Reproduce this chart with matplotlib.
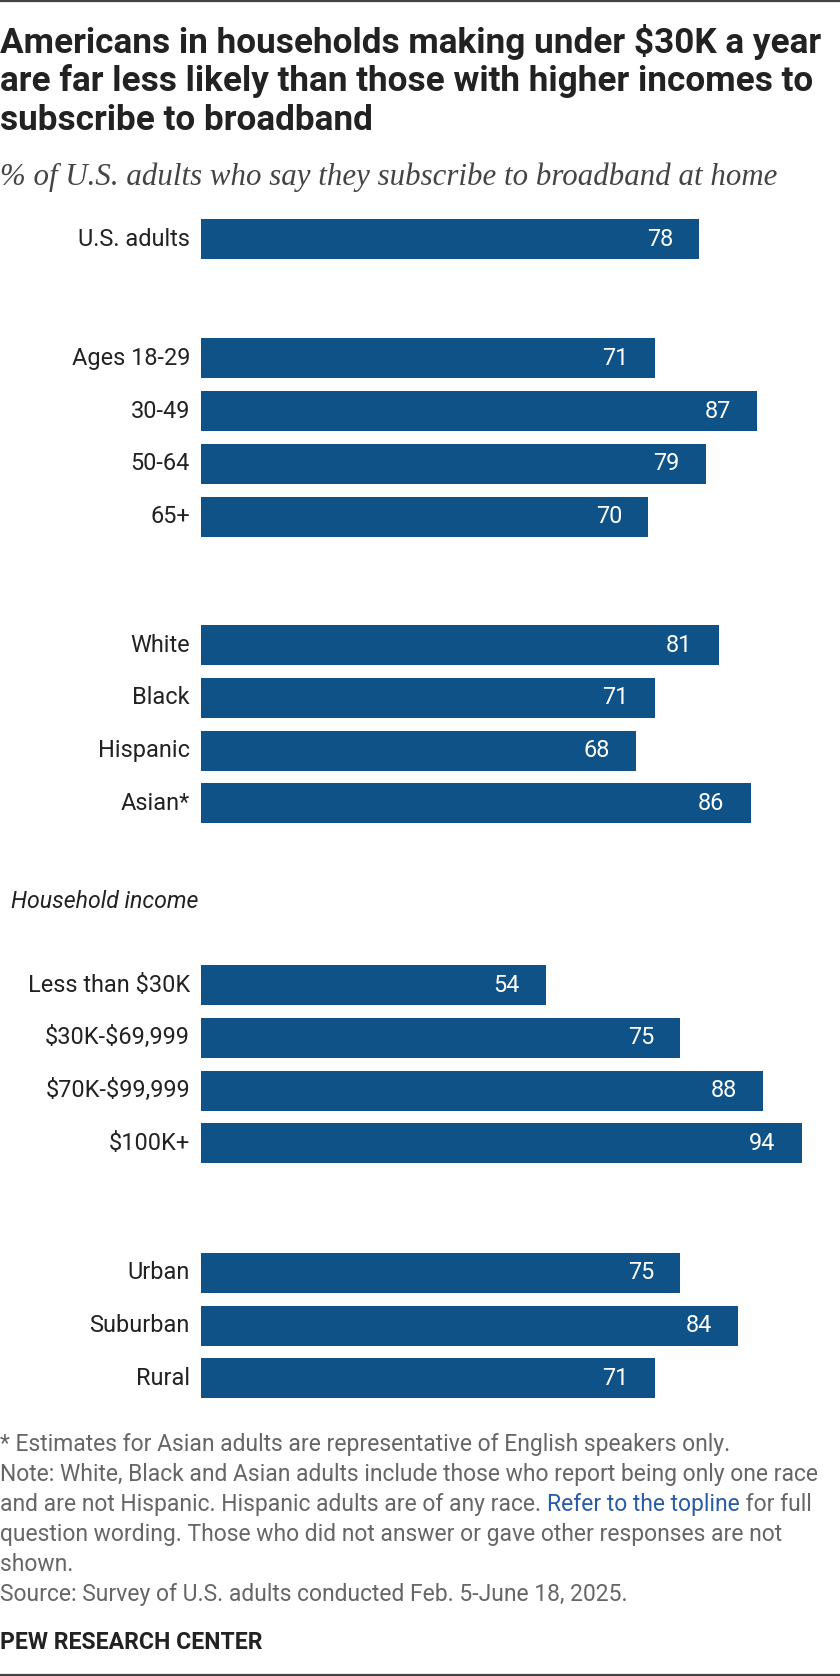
import matplotlib
matplotlib.use("Agg")
import matplotlib.pyplot as plt

# data
us_labels = ["U.S. adults"]
us_values = [78]
age_labels = ["Ages 18-29", "30-49", "50-64", "65+"]
age_values = [71, 87, 79, 70]
race_labels = ["White", "Black", "Hispanic", "Asian*"]
race_values = [81, 71, 68, 86]
income_labels = ["Less than $30K", "$30K-$69,999", "$70K-$99,999", "$100K+"]
income_values = [54, 75, 88, 94]
area_labels = ["Urban", "Suburban", "Rural"]
area_values = [75, 84, 71]

groups = [(us_labels, us_values), (age_labels, age_values), (race_labels, race_values),
          (income_labels, income_values), (area_labels, area_values)]
group_gaps = [0, 2.26, 2.43, 3.44, 2.45]   # space before each group, in rows

W, H = 840, 1676
PX = 6.39          # pixels per percentage point
ROW = 52.8         # pixels per row
BAR_LEFT = 201
FIRST_ROW = 239

BAR = "#0e5288"
DARK = "#222222"
GREY = "#666666"
SANS = ["Roboto", "DejaVu Sans"]
SERIF = ["Liberation Serif", "DejaVu Serif"]

fig = plt.figure(figsize=(W / 100, H / 100), dpi=100)
renderer = fig.canvas.get_renderer()

def fit_size(text, width, **kw):
    t = fig.text(0, 0, text, fontsize=10, parse_math=False, **kw)
    w = t.get_window_extent(renderer).width
    t.remove()
    return 10 * width / w

def fx(x):
    return x / W

def fy(y):
    return 1 - y / H

ax = fig.add_axes([0, 0, 1, 1])
ax.axis("off")
ax.set_xlim(-BAR_LEFT / PX, (W - BAR_LEFT) / PX)
ax.set_ylim((H - FIRST_ROW) / ROW, -FIRST_ROW / ROW)

ys, labels, values = [], [], []
pos = 0.0
for (labs, vals), gap in zip(groups, group_gaps):
    pos += gap
    for i, (l, v) in enumerate(zip(labs, vals)):
        if i > 0:
            pos += 1
        ys.append(pos)
        labels.append(l)
        values.append(v)

label_fs = fit_size("Less than $30K", 162, family=SANS)
ax.barh(ys, values, height=40 / ROW, color=BAR, edgecolor="none")
for y, l, v in zip(ys, labels, values):
    ax.text(-11 / PX, y, l, ha="right", va="center", fontsize=label_fs, color=DARK,
            family=SANS, parse_math=False)
    ax.text(v - 26 / PX, y, str(v), ha="right", va="center", fontsize=label_fs,
            color="white", family=SANS)

income_y = ys[labels.index(income_labels[0])]
hi_fs = fit_size("Household income", 187, family=SANS, style="italic")
ax.text(-BAR_LEFT / PX + 10.7 / PX, income_y - 84 / ROW, "Household income", ha="left",
        va="center", fontsize=hi_fs, style="italic", color=DARK, family=SANS)

# title and subtitle
title = ["Americans in households making under $30K a year",
         "are far less likely than those with higher incomes to",
         "subscribe to broadband"]
title_fs = fit_size(title[0], 820, family=SANS, fontweight="bold")
for i, line in enumerate(title):
    fig.text(fx(0), fy(53 + i * 38.5), line, ha="left", va="baseline", fontsize=title_fs,
             fontweight="bold", color=DARK, family=SANS, parse_math=False)
subtitle = "% of U.S. adults who say they subscribe to broadband at home"
sub_fs = fit_size(subtitle, 779, family=SERIF, style="italic")
fig.text(fx(0), fy(185), subtitle, ha="left", va="baseline", fontsize=sub_fs,
         style="italic", color="#444444", family=SERIF)

# notes
note_lines = [
    [("* Estimates for Asian adults are representative of English speakers only.", GREY)],
    [("Note: White, Black and Asian adults include those who report being only one race", GREY)],
    [("and are not Hispanic. Hispanic adults are of any race. ", GREY),
     ("Refer to the topline", "#2a5ba8"), (" for full", GREY)],
    [("question wording. Those who did not answer or gave other responses are not", GREY)],
    [("shown.", GREY)],
    [("Source: Survey of U.S. adults conducted Feb. 5-June 18, 2025.", GREY)],
]
note_fs = fit_size(note_lines[1][0][0], 818, family=SANS)
for i, parts in enumerate(note_lines):
    x = 0
    for txt, col in parts:
        t = fig.text(fx(x), fy(1451 + i * 30), txt, ha="left", va="baseline",
                     fontsize=note_fs, color=col, family=SANS)
        x += t.get_window_extent(renderer).width

pew_fs = fit_size("PEW RESEARCH CENTER", 262, family=SANS, fontweight="bold")
fig.text(fx(0), fy(1649), "PEW RESEARCH CENTER", ha="left", va="baseline", fontsize=pew_fs,
         fontweight="bold", color=DARK, family=SANS)

# rules at top and bottom
fig.add_artist(plt.Line2D([0, 1], [fy(1), fy(1)], color="#444444", linewidth=1.6))
fig.add_artist(plt.Line2D([0, 1], [fy(1675), fy(1675)], color="#444444", linewidth=1.6))

fig.savefig("out.png", dpi=100)
